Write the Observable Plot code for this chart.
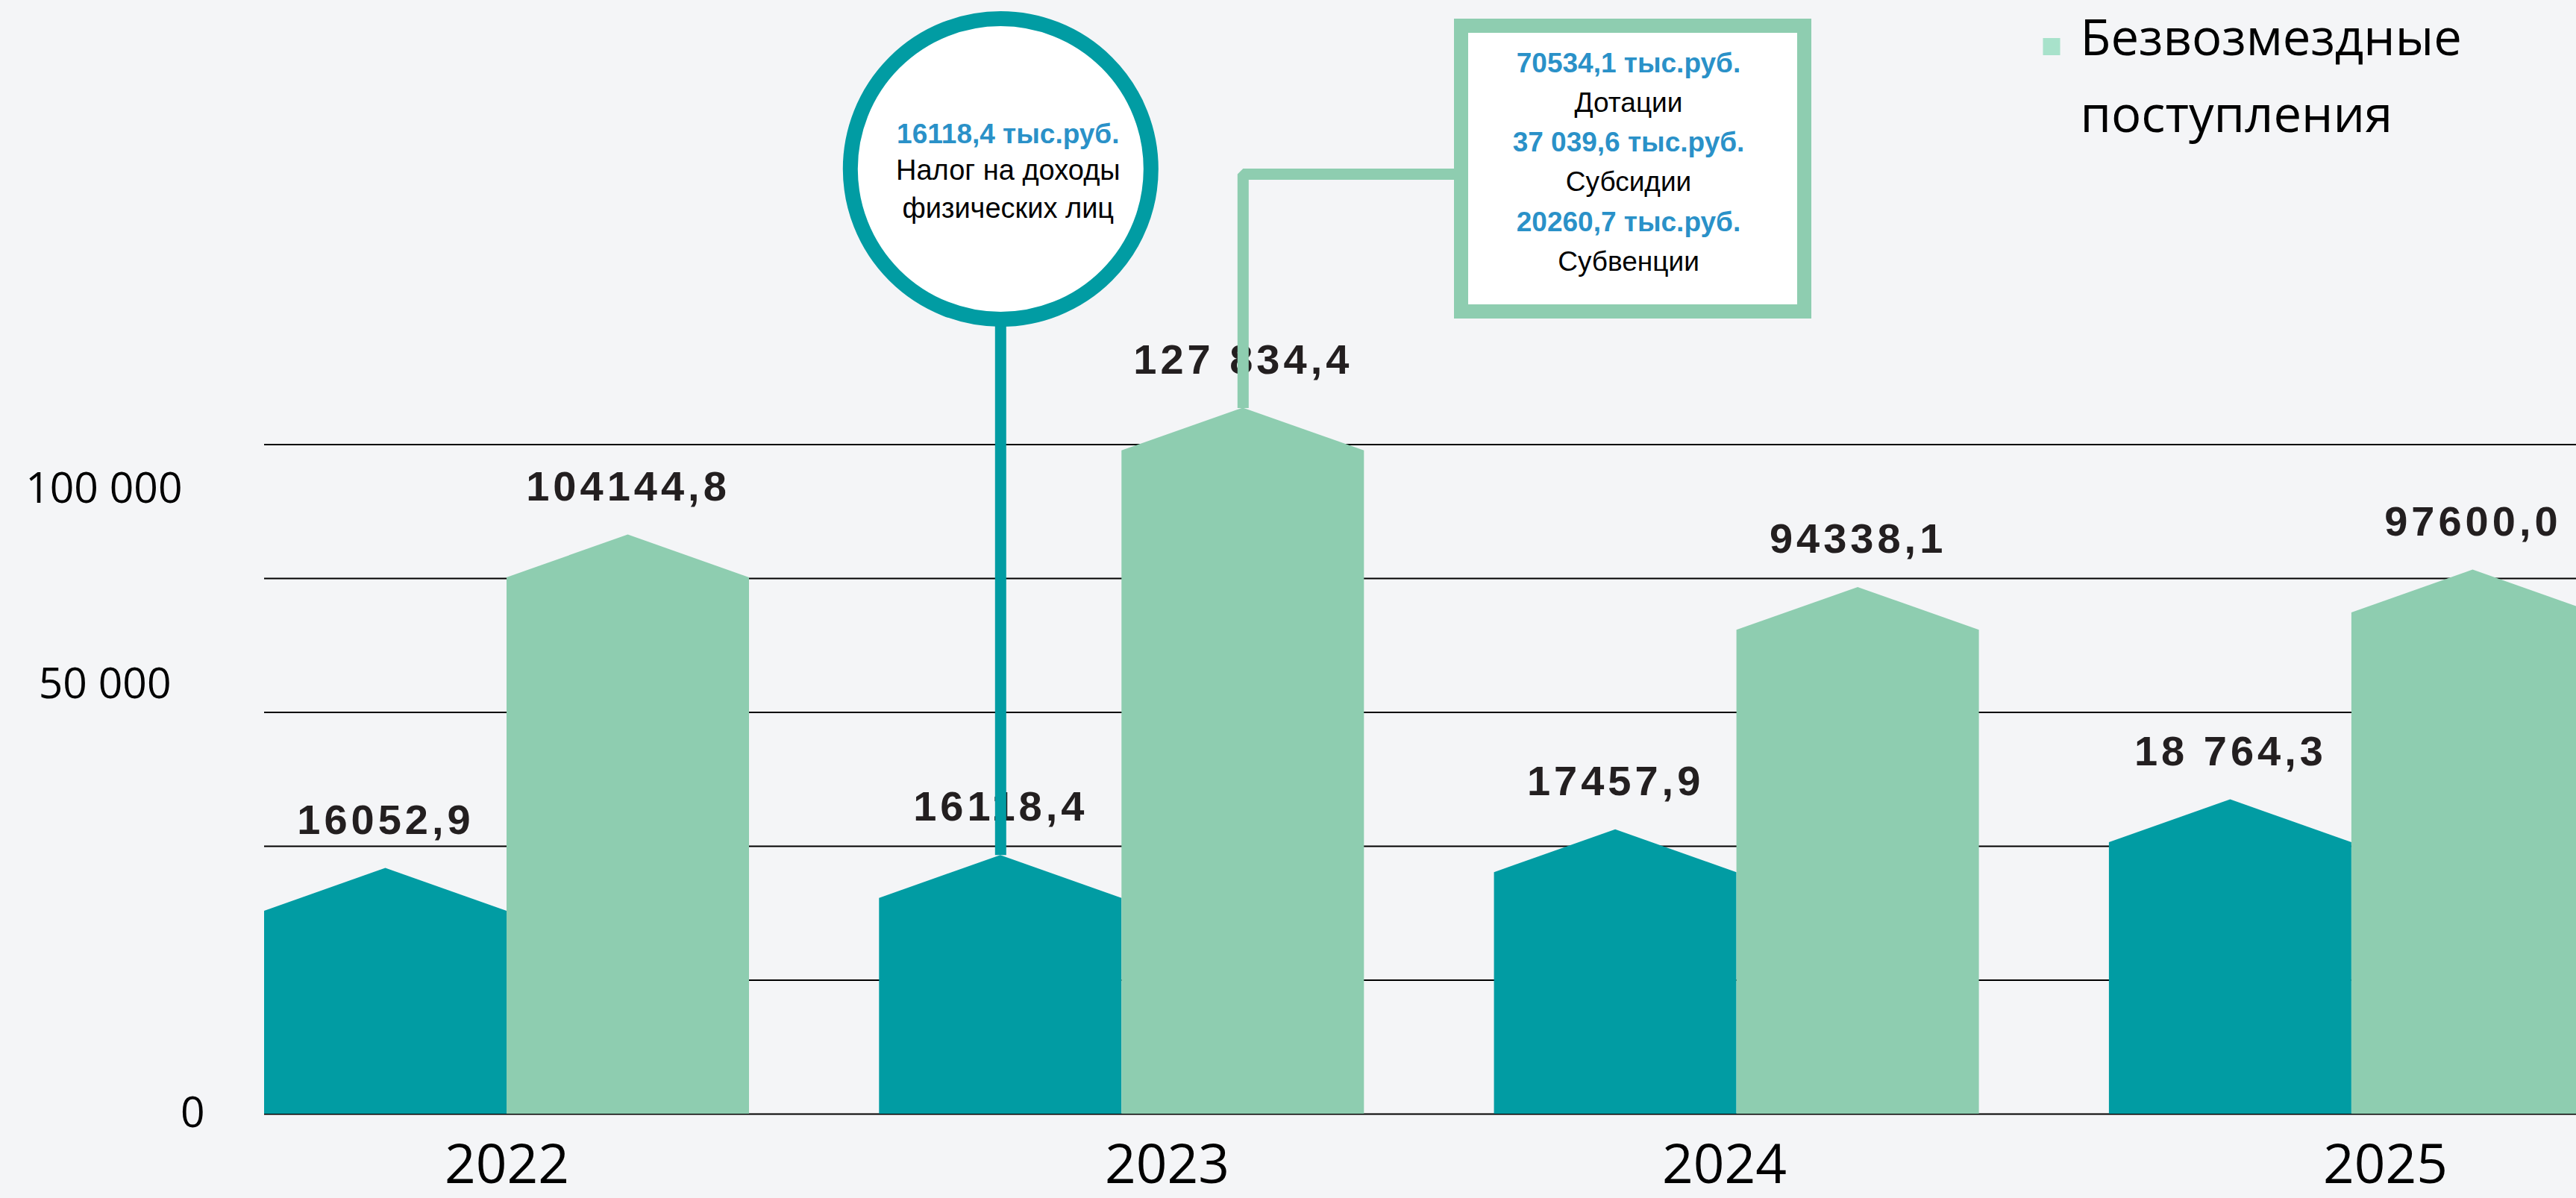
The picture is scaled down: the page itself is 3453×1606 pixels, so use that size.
<!DOCTYPE html>
<html><head><meta charset="utf-8">
<script src="https://cdn.jsdelivr.net/npm/d3@7"></script>
<script src="https://cdn.jsdelivr.net/npm/@observablehq/plot@0.6"></script>
<style>
html,body{margin:0;padding:0;background:#f4f5f7;overflow:hidden;}
#chart svg{display:block;}
g[font-size="56"]{letter-spacing:5px;}
</style></head><body><div id="chart"></div>
<script>
// ---------- data ----------
const years = ["2022", "2023", "2024", "2025"];
const seriesNames = ["Налог на доходы физических лиц", "Безвозмездные поступления"];
const ndflValues = [16052.9, 16118.4, 17457.9, 18764.3];
const ndflLabels = ["16052,9", "16118,4", "17457,9", "18 764,3"];
// the teal bars are drawn much taller than their values (decorative); heights as read on the grid
const ndflDrawn = [41900, 44300, 49100, 54700];
const bezvValues = [104144.8, 127834.4, 94338.1, 97600.0];
const bezvLabels = ["104144,8", "127 834,4", "94338,1", "97600,0"];
const gridValues = [0, 25000, 50000, 75000, 100000, 125000];
const yTickLabels = ["0", "50 000", "100 000"];
const yTickAt = [-2500, 77580, 114140];
const ndflNoteValue = ["16118,4 тыс.руб."];
const ndflNoteText = ["Налог на доходы", "физических лиц"];
const bezvNoteValues = ["70534,1 тыс.руб.", "37 039,6 тыс.руб.", "20260,7 тыс.руб."];
const bezvNoteNames = ["Дотации", "Субсидии", "Субвенции"];
const legendLines = ["Безвозмездные", "поступления"];

// ---------- layout ----------
const W = 3453, H = 1606;
const X0 = 679, XSTEP = 824.3;          // pixel position of first group centre, group step
const Y0 = 1493, UPP = 25000 / 179.5;   // baseline pixel, value units per pixel
const px2x = p => (p - X0) / XSTEP;
const py = p => (Y0 - p) * UPP;
const BW = 325 / XSTEP;                 // bar width in x units
const ROOF = 4000;                      // half roof height in y units
const yearLabelPx = [679, 1564, 2311, 3197];
const yTickRightPx = [274, 229, 244];
const legendBaselinePx = [73, 176];
const TEAL = "#019ca3", GREEN = "#8ecdb0", BLUE = "#2a91c8", MINT = "#a8e2cb", INK = "#231f20";
const SANS = "Liberation Sans, Arial, sans-serif";
const OPEN = "Open Sans, Noto Sans, sans-serif";

const bars = [];
years.forEach((yr, i) => {
  bars.push({id: yr + "a", series: seriesNames[0], cx: i - BW / 2, h: ndflDrawn[i], label: ndflLabels[i], value: ndflValues[i]});
  bars.push({id: yr + "b", series: seriesNames[1], cx: i + BW / 2, h: bezvValues[i], label: bezvLabels[i], value: bezvValues[i]});
});
const housePts = bars.flatMap(b => [
  {id: b.id, series: b.series, x: b.cx - BW / 2, y: b.h - ROOF},
  {id: b.id, series: b.series, x: b.cx, y: b.h + ROOF},
  {id: b.id, series: b.series, x: b.cx + BW / 2, y: b.h - ROOF}
]);

// callouts anchored on the 2023 bars
const tealBar = bars[2], greenBar = bars[3];
const circle = {x: tealBar.cx, y: py(226)};
const box = {cx: px2x(2188.5), cy: py(226), hw: 230 / XSTEP, hh: 191.5 * UPP};
const connY = py(233);

const chart = Plot.plot({
  width: W, height: H, margin: 0,
  x: {type: "linear", domain: [px2x(0), px2x(W)], axis: null},
  y: {type: "linear", domain: [py(H), py(0)], axis: null},
  color: {domain: seriesNames, range: [TEAL, GREEN]},
  style: {background: "#f4f5f7", fontFamily: SANS, overflow: "visible"},
  marks: [
    Plot.ruleY(gridValues, {y: d => d, x1: -BW, x2: px2x(W + 10), stroke: "#000", strokeWidth: 2}),
    Plot.area(housePts, {x1: "x", y1: 0, y2: "y", z: "id", fill: "series", curve: "linear"}),
    // value labels
    Plot.text(bars, {x: "cx", y: "h", text: "label", dy: -75, lineAnchor: "bottom", textAnchor: "middle",
      fontSize: 56, fontWeight: "bold", fill: INK, fontFamily: SANS}),
    // y labels
    Plot.text(yTickLabels, {x: (d, i) => px2x(yTickRightPx[i]), y: (d, i) => yTickAt[i], text: d => d, textAnchor: "end",
      lineAnchor: "bottom", fontSize: 57, fill: "#000", fontFamily: OPEN}),
    // year labels
    Plot.text(years, {x: (d, i) => px2x(yearLabelPx[i]), y: py(1585), text: d => d, textAnchor: "middle",
      lineAnchor: "bottom", fontSize: 73, fill: "#000", fontFamily: OPEN}),
    // circle callout
    Plot.ruleX([circle], {x: "x", y1: tealBar.h + ROOF, y2: "y", stroke: TEAL, strokeWidth: 15}),
    Plot.dot([circle], {x: "x", y: "y", r: 201.5, fill: "#fff", stroke: TEAL, strokeWidth: 20}),
    Plot.text(ndflNoteValue, {x: circle.x + 10 / XSTEP, y: circle.y + 35 * UPP, text: d => d,
      lineAnchor: "bottom", textAnchor: "middle", fontSize: 37, fontFamily: SANS, fontWeight: "bold", fill: BLUE}),
    Plot.text(ndflNoteText, {x: circle.x + 10 / XSTEP, y: (d, i) => circle.y - (14 + 51 * i) * UPP, text: d => d,
      lineAnchor: "bottom", textAnchor: "middle", fontSize: 38, fontFamily: SANS, fill: "#000"}),
    // box callout
    Plot.line([
      {x: greenBar.cx, y: greenBar.h + ROOF},
      {x: greenBar.cx, y: connY},
      {x: box.cx - box.hw, y: connY}
    ], {x: "x", y: "y", stroke: GREEN, strokeWidth: 15, strokeLinejoin: "miter", strokeLinecap: "butt", curve: "linear"}),
    Plot.rect([box], {x1: d => d.cx - d.hw, x2: d => d.cx + d.hw, y1: d => d.cy - d.hh, y2: d => d.cy + d.hh,
      fill: "#fff", stroke: GREEN, strokeWidth: 19}),
    Plot.text(bezvNoteValues, {x: box.cx - 6 / XSTEP, y: (d, i) => box.cy + (130 - 106.5 * i) * UPP, text: d => d,
      lineAnchor: "bottom", textAnchor: "middle", fontSize: 37, fontFamily: SANS, fontWeight: "bold", fill: BLUE}),
    Plot.text(bezvNoteNames, {x: box.cx - 6 / XSTEP, y: (d, i) => box.cy + (77 - 106.5 * i) * UPP, text: d => d,
      lineAnchor: "bottom", textAnchor: "middle", fontSize: 37, fontFamily: SANS, fill: "#000"}),
    // legend
    Plot.dot([seriesNames[1]], {x: px2x(2749.5), y: py(legendBaselinePx[0] - 11), symbol: "square", r: 13, fill: MINT}),
    Plot.text(legendLines, {x: px2x(2788), y: (d, i) => py(legendBaselinePx[i]), text: d => d, textAnchor: "start",
      lineAnchor: "bottom", fontSize: 67, fill: "#000", fontFamily: OPEN})
  ]
});
document.getElementById("chart").appendChild(chart);
</script>
</body></html>
